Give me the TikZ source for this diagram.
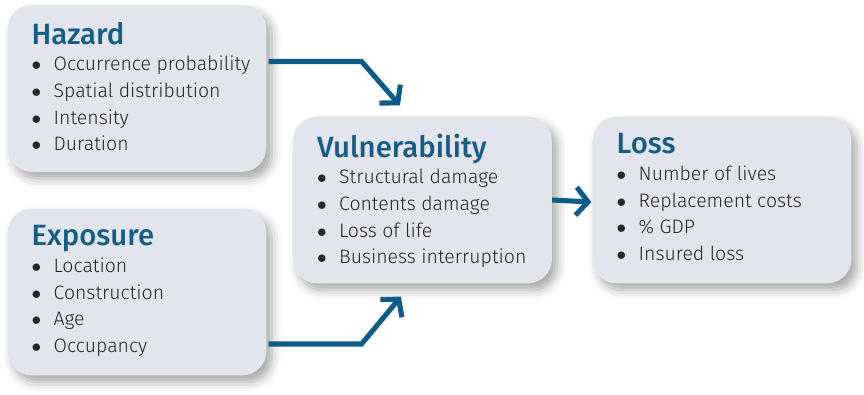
\documentclass[tikz,border=0pt]{standalone}
\usepackage{fontspec}
\setmainfont{Fira Sans Light}[BoldFont={Fira Sans Medium}]
\usetikzlibrary{calc,arrows.meta,shadows.blur}
\definecolor{boxfill}{HTML}{E2E5EC}
\definecolor{ttl}{HTML}{165D86}
\definecolor{arr}{HTML}{0C5C89}
\definecolor{txt}{HTML}{262626}
\newcommand{\ttlfont}{\fontsize{22}{20}\bfseries\color{ttl}}
\newcommand{\itm}[1]{\makebox[16.5pt][l]{$\bullet$}#1}

\begin{document}
\begin{tikzpicture}[x=0.75pt, y=-0.75pt, >={Straight Barb[length=9pt,width=21pt]},
  panel/.style={fill=boxfill, rounded corners=18pt, minimum width=194pt, minimum height=125pt,
    blur shadow={shadow xshift=4pt, shadow yshift=-5pt, shadow blur radius=7pt, shadow opacity=35}},
  list/.style={anchor=north west, align=left, inner sep=0pt, text=txt,
    font=\fontsize{14.6}{20}\selectfont},
  flow/.style={->, draw=arr, line width=3.8pt, miter limit=4}]

\useasboundingbox (0,0) rectangle (864,394);

\node[panel] at (137,88.5) (hazard) {};
\node[panel] at (137,292) (expo) {};
\node[panel] at (422.5,200) (vuln) {};
\node[panel] at (722,200) (loss) {};

\node[list] at ($(hazard.north west)+(24,17)$) (hazardtxt) {{\ttlfont Hazard}\\
  \itm{Occurrence probability}\\ \itm{Spatial distribution}\\ \itm{Intensity}\\ \itm{Duration}};
\node[list] at ($(expo.north west)+(24,17)$) (expotxt) {{\ttlfont Exposure}\\
  \itm{Location}\\ \itm{Construction}\\ \itm{Age}\\ \itm{Occupancy}};
\node[list] at ($(vuln.north west)+(24,17)$) (vulntxt) {{\ttlfont Vulnerability}\\
  \itm{Structural damage}\\ \itm{Contents damage}\\ \itm{Loss of life}\\ \itm{Business interruption}};
\node[list] at ($(loss.north west)+(24,17)$) (losstxt) {{\ttlfont Loss}\\
  \itm{Number of lives}\\ \itm{Replacement costs}\\ \itm{\% GDP}\\ \itm{Insured loss}};

\coordinate (hbend) at ($(hazard.east)+(95,-27)$);
\coordinate (ebend) at ($(expo.east)+(95,52)$);
\draw[flow] ($(hazard.east)+(2,-27)$) -- (hbend) -- ($(vuln.north west)+(107,-11)$);
\draw[flow] ($(expo.east)+(2,52)$) -- (ebend) -- ($(vuln.south west)+(108,13)$);
\draw[flow] (vuln.east) -- ($(loss.west)+(-1,2)$);

\end{tikzpicture}
\end{document}
